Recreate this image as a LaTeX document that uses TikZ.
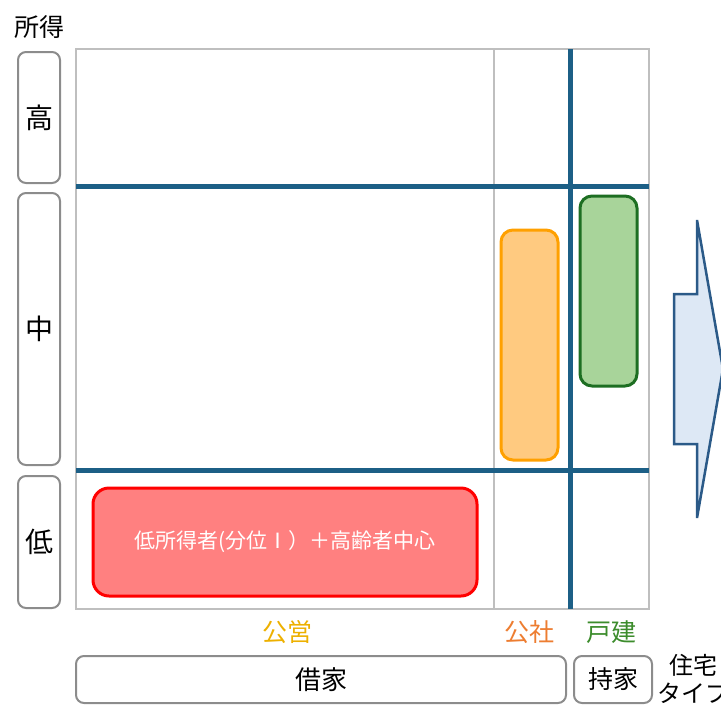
\documentclass[tikz,border=0pt]{standalone}
\usepackage{fontspec}
\setmainfont{Noto Sans CJK JP}
\begin{document}
\begin{tikzpicture}[x=1pt,y=-1pt,
  gridline/.style={draw=black!25,line width=1.5pt},
  axisline/.style={draw=axisblue,line width=5pt},
  labelbox/.style={draw=black!45,line width=2pt,rounded corners=8pt,fill=white,inner sep=0pt},
  catlabel/.style={font=\fontsize{25}{27}\selectfont,inner sep=0pt},
  bar/.style={line width=3pt,rounded corners=12pt,inner sep=0pt}]
\definecolor{axisblue}{HTML}{1C5F86}
\definecolor{orfill}{HTML}{FFCA80}
\definecolor{ordraw}{HTML}{FFA000}
\definecolor{grfill}{HTML}{A8D49A}
\definecolor{grdraw}{HTML}{1D6E22}
\definecolor{rdfill}{HTML}{FF8080}
\definecolor{goldtxt}{HTML}{EDB000}
\definecolor{orangetxt}{HTML}{ED7D31}
\definecolor{greentxt}{HTML}{3C8C2C}
\definecolor{arrfill}{HTML}{DDE8F5}
\definecolor{arrdraw}{HTML}{2B5A88}
\useasboundingbox (0,0) rectangle (721,705);
% grid
\coordinate (tl) at (76,49);
\coordinate (br) at (649,609);
\draw[gridline,fill=white] (tl) rectangle (br);
\draw[gridline] (494,49) -- (494,609);
\draw[axisline] (76,186) -- (649,186);
\draw[axisline] (76,470) -- (649,470);
\draw[axisline] (570,49) -- (570,609);
% left labels
\node[font=\fontsize{25}{27}\selectfont] (shotoku) at (39,27) {所得};
\node[labelbox,minimum width=42pt,minimum height=131pt,font=\fontsize{28}{30}\selectfont] (high) at (39,117.5) {高};
\node[labelbox,minimum width=42pt,minimum height=272pt,font=\fontsize{28}{30}\selectfont] (mid) at (39,329) {中};
\node[labelbox,minimum width=42pt,minimum height=132pt,font=\fontsize{28}{30}\selectfont] (low) at (39,542) {低};
% bars
\node[bar,draw=ordraw,fill=orfill,minimum width=57pt,minimum height=230pt] (kosha) at (529.5,345) {};
\node[bar,draw=grdraw,fill=grfill,minimum width=57pt,minimum height=190pt] (kodate) at (608.5,291) {};
\node[bar,draw=red,fill=rdfill,minimum width=384pt,minimum height=108pt,rounded corners=16pt,
  text=white,font=\fontsize{21}{23}\selectfont] (koei) at (285,542) {低所得者(分位Ⅰ）＋高齢者中心};
% category labels
\node[catlabel,text=goldtxt] (lkoei) at (287,632) {公営};
\node[catlabel,text=orangetxt] (lkosha) at (529,632) {公社};
\node[catlabel,text=greentxt] (lkodate) at (611,632) {戸建};
% bottom boxes
\node[labelbox,minimum width=490pt,minimum height=47pt,font=\fontsize{26}{28}\selectfont] (shakuya) at (321,679.5) {借家};
\node[labelbox,minimum width=78pt,minimum height=47pt,font=\fontsize{25}{27}\selectfont] (mochiie) at (613,679.5) {持家};
\node[font=\fontsize{24}{28}\selectfont,align=center,inner sep=0pt] (jutaku) at (693,679) {住宅\\タイプ};
% arrow
\draw[draw=arrdraw,fill=arrfill,line width=2.5pt,line join=miter]
  (674,294) -- (697,294) -- (697,220) -- (723,369) -- (697,518) -- (697,444) -- (674,444) -- cycle;
\end{tikzpicture}
\end{document}
